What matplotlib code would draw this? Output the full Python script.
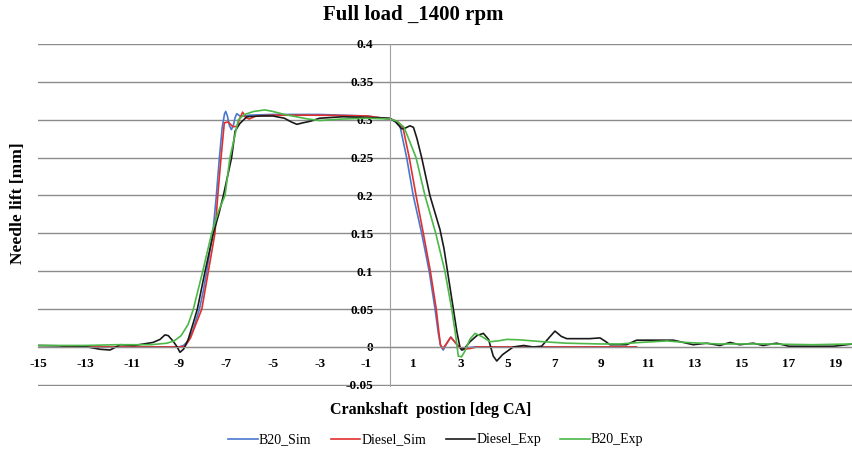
import matplotlib
matplotlib.use("Agg")
import matplotlib.pyplot as plt

plt.rcParams['font.family'] = ['Liberation Serif', 'DejaVu Serif']
plt.rcParams['axes.unicode_minus'] = False

# ---------------- data ----------------
b20_sim_x = [-14, -9.5, -9.0, -8.8, -8.6, -8.4, -8.12, -7.95, -7.81, -7.68, -7.55, -7.4, -7.27,
             -7.15, -7.05, -7.0, -6.93, -6.85, -6.76, -6.68, -6.6, -6.53, -6.4, -6.2, -6.0,
             -5.0, -4.0, -3.0, -2.0, -1.0, -0.5, 0.0, 0.2, 0.43, 0.71, 0.99, 1.35, 1.67, 1.92,
             2.05, 2.15, 2.27, 2.4, 2.59, 2.75, 2.9, 3.1, 3.3, 3.6, 10.5]
b20_sim_y = [0, 0, 0, 0.002, 0.008, 0.022, 0.05, 0.075, 0.1, 0.125, 0.15, 0.2, 0.25,
             0.29, 0.308, 0.311, 0.305, 0.293, 0.287, 0.292, 0.303, 0.308, 0.305, 0.305, 0.306,
             0.307, 0.307, 0.307, 0.306, 0.305, 0.303, 0.301, 0.298, 0.291, 0.25, 0.2, 0.15, 0.1, 0.05,
             0.02, 0.002, -0.004, 0.004, 0.013, 0.007, 0.001, -0.004, -0.001, 0, 0]

diesel_sim_x = [-14, -9, -8.73, -8.5, -8.3, -8.02, -7.74, -7.46, -7.34, -7.2, -7.06, -6.9, -6.7,
                -6.53, -6.4, -6.28, -6.15, -6.0, -5.7, -5.0, -3.0, -1.0, 0.0, 0.3, 0.55, 0.82,
                1.11, 1.42, 1.72, 1.97, 2.08, 2.15, 2.25, 2.4, 2.59, 2.75, 2.95, 3.15, 3.4, 3.7, 10.5]
diesel_sim_y = [0, 0, 0.001, 0.012, 0.028, 0.05, 0.1, 0.15, 0.2, 0.25, 0.296, 0.297, 0.291,
                0.291, 0.302, 0.31, 0.303, 0.301, 0.305, 0.306, 0.306, 0.305, 0.301, 0.298, 0.29, 0.25,
                0.2, 0.15, 0.1, 0.05, 0.02, 0.003, -0.002, 0.004, 0.013, 0.007, 0.0, -0.003, -0.002, 0, 0]

diesel_exp_x = [-15, -13.06, -12.7, -12.36, -11.93, -11.5, -10.9, -10.1, -9.8, -9.59, -9.45, -9.25,
                -9.09, -8.95, -8.8, -8.6, -8.4, -8.21, -7.88, -7.53, -7.3, -7.1, -6.75, -6.6, -6.4,
                -6.1, -5.5, -5.0, -4.5, -4.2, -3.97, -3.7, -3.4, -3.0, -2.5, -2.0, -1.0, 0.0, 0.25,
                0.5, 0.65, 0.85, 1.0, 1.15, 1.35, 1.7, 2.13, 2.3, 2.5, 2.7, 2.85, 2.98, 3.05, 3.2,
                3.41, 3.7, 3.98, 4.2, 4.4, 4.55, 4.8, 5.25, 5.7, 6.1, 6.46, 6.8, 7.03, 7.3, 7.53,
                8.5, 8.95, 9.2, 9.37, 10.08, 10.51, 11.0, 12.07, 12.5, 12.92, 13.5, 14.06, 14.49,
                14.9, 15.48, 15.9, 16.47, 17.0, 18.9, 19.73]
diesel_exp_y = [0.002, 0.001, -0.001, -0.003, -0.004, 0.003, 0.002, 0.006, 0.01, 0.016, 0.015, 0.008,
                0.001, -0.007, -0.003, 0.01, 0.03, 0.05, 0.1, 0.15, 0.175, 0.2, 0.25, 0.285, 0.295,
                0.304, 0.305, 0.305, 0.302, 0.297, 0.294, 0.296, 0.298, 0.302, 0.303, 0.304, 0.303, 0.302, 0.297,
                0.288, 0.289, 0.292, 0.29, 0.275, 0.25, 0.2, 0.155, 0.13, 0.09, 0.05, 0.02, 0.0, -0.004, -0.001,
                0.007, 0.015, 0.018, 0.01, -0.012, -0.0185, -0.01, 0.0, 0.002, 0.0, 0.001, 0.013, 0.021, 0.014, 0.011,
                0.011, 0.012, 0.007, 0.003, 0.003, 0.009, 0.009, 0.009, 0.006, 0.003, 0.005, 0.002, 0.006,
                0.003, 0.005, 0.002, 0.005, 0.001, 0.001, 0.004]

b20_exp_x = [-15, -13, -11.65, -10.2, -9.5, -9.2, -8.9, -8.6, -8.38, -7.98, -7.6, -7.3, -7.03,
             -6.82, -6.46, -6.2, -5.8, -5.33, -5.0, -4.5, -4.0, -3.5, -3.0, -2.0, -1.0, 0.0, 0.3,
             0.6, 1.11, 1.49, 1.95, 2.34, 2.63, 2.8, 2.91, 3.05, 3.2, 3.4, 3.62, 3.9, 4.26, 4.6,
             4.97, 5.5, 6.1, 6.5, 7.53, 8.95, 9.8, 10.65, 11.8, 12.6, 14.0, 16.0, 18.0, 19.73]
b20_exp_y = [0.002, 0.002, 0.003, 0.003, 0.005, 0.008, 0.015, 0.03, 0.05, 0.1, 0.15, 0.18, 0.2,
             0.25, 0.3, 0.307, 0.311, 0.313, 0.311, 0.307, 0.304, 0.301, 0.299, 0.301, 0.302, 0.301, 0.298,
             0.29, 0.25, 0.2, 0.15, 0.1, 0.05, 0.015, -0.012, -0.013, -0.005, 0.01, 0.018, 0.014, 0.007, 0.008,
             0.01, 0.0095, 0.008, 0.007, 0.005, 0.004, 0.004, 0.006, 0.008, 0.006, 0.004, 0.004, 0.003, 0.004]

series_names = ['B20_Sim', 'Diesel_Sim', 'Diesel_Exp', 'B20_Exp']
series_colors = ['#4a78d0', '#e0302e', '#1a1a1a', '#4cb848']

x_ticks = list(range(-15, 20, 2))
y_ticks = [-0.05, 0, 0.05, 0.1, 0.15, 0.2, 0.25, 0.3, 0.35, 0.4]
y_tick_labels = ['-0.05', '0', '0.05', '0.1', '0.15', '0.2', '0.25', '0.3', '0.35', '0.4']

# ---------------- plotting ----------------
fig = plt.figure(figsize=(8.53, 4.51), dpi=100)
ax = fig.add_axes([38 / 853, 65 / 451, 815 / 853, 342 / 451])

xs = [b20_sim_x, diesel_sim_x, diesel_exp_x, b20_exp_x]
ys = [b20_sim_y, diesel_sim_y, diesel_exp_y, b20_exp_y]
for x, y, name, c in zip(xs, ys, series_names, series_colors):
    ax.plot(x, y, color=c, lw=1.2, label=name)

ax.set_xlim(-15, 19.73)
ax.set_ylim(-0.0515, 0.4)
ax.set_xticks(x_ticks)
ax.set_yticks(y_ticks)
ax.set_yticklabels(y_tick_labels)
ax.grid(axis='y', color='#8c8c8c', lw=1.0)
ax.set_axisbelow(True)

for s in ['top', 'right']:
    ax.spines[s].set_visible(False)
ax.spines['left'].set_position(('data', 0))
ax.spines['left'].set_color('#a0a0a0')
ax.spines['bottom'].set_position(('data', 0))
ax.spines['bottom'].set_color('#8c8c8c')
ax.tick_params(length=0)
ax.tick_params(axis='y', pad=12)
ax.tick_params(axis='x', pad=8)
for lab in ax.get_xticklabels() + ax.get_yticklabels():
    lab.set_fontweight('bold')
    lab.set_fontsize(9.5)

fig.text(413 / 853, 1 - 15 / 451, 'Full load _1400 rpm', ha='center', va='center',
         fontsize=15, fontweight='bold')
fig.text(431 / 853, 1 - 410 / 451, 'Crankshaft  postion [deg CA]', ha='center', va='center',
         fontsize=11.5, fontweight='bold')
fig.text(18 / 853, 1 - 203 / 451, 'Needle lift [mm]', ha='center', va='center',
         rotation=90, fontsize=12.5, fontweight='bold')

fig.legend(loc='center', bbox_to_anchor=(436 / 853, 1 - 440 / 451), ncol=4, frameon=False,
           fontsize=10, handlelength=2.1, columnspacing=1.4, handletextpad=0.1)

fig.savefig('out.png', dpi=100)
